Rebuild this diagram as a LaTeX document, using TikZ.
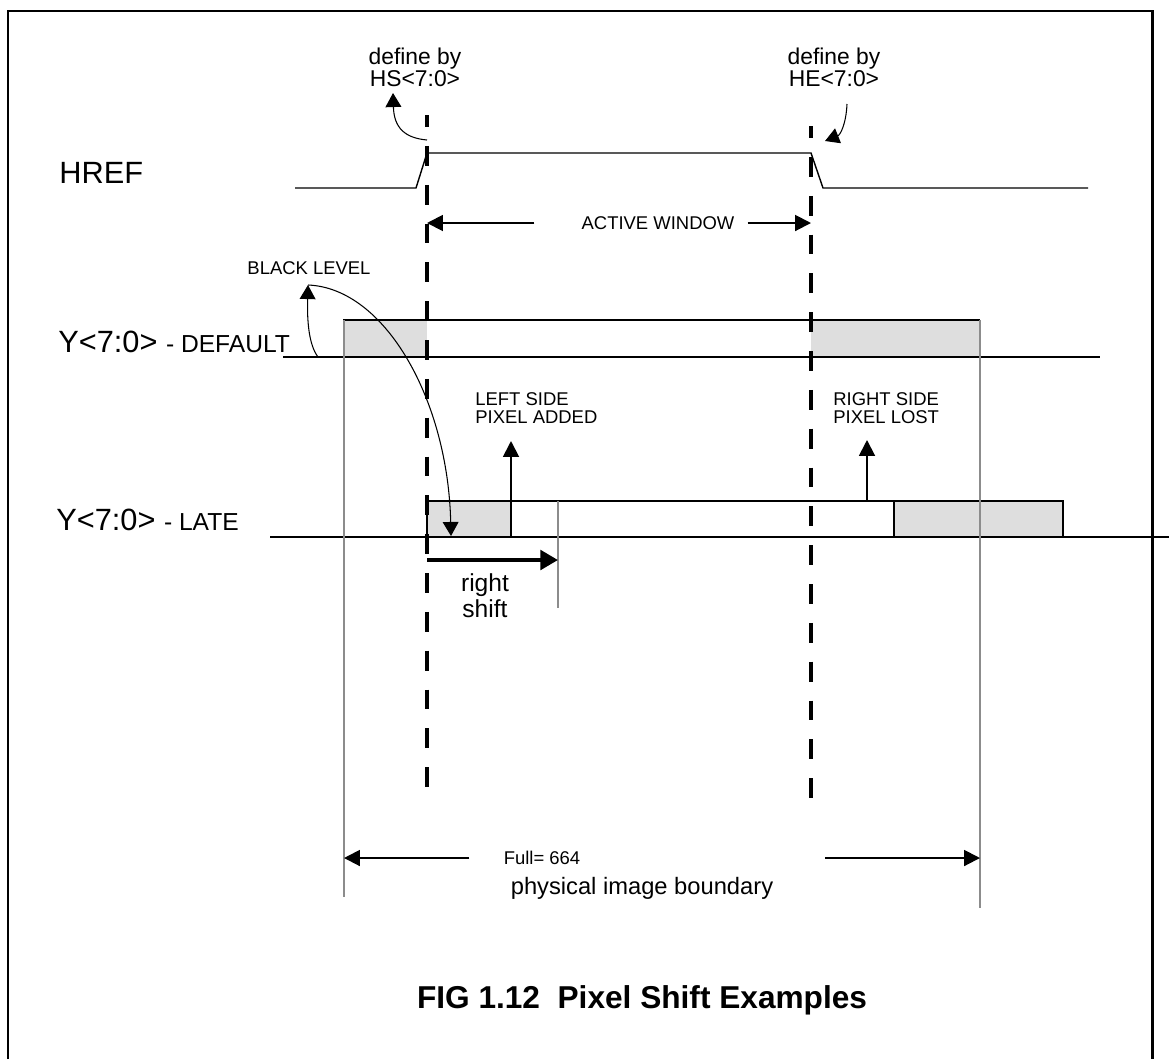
\documentclass[tikz,border=0pt]{standalone}
\usepackage{fontspec}
\setmainfont{Liberation Sans}
\usetikzlibrary{arrows.meta, positioning, calc}
\definecolor{blackfill}{HTML}{DEDEDE}
\definecolor{edgegray}{HTML}{8C8C8C}
\newcommand{\sigfont}{\fontsize{17.5}{20}\selectfont}
\newcommand{\tagfont}{\fontsize{14}{16}\selectfont}

\begin{document}
\begin{tikzpicture}[x=0.02cm, y=-0.02cm,
    >={Triangle[length=9pt, width=9pt]},
    sig/.style={line width=1.1pt},
    hrefline/.style={line width=0.8pt},
    bound/.style={edgegray, line width=0.8pt},
    cut/.style={line width=2.3pt, dash pattern=on 11.3pt off 10.8pt, dash phase=4.5pt},
    curvearrow/.style={line width=0.6pt, -{Triangle[length=8pt, width=9pt]}},
    midtxt/.style={font=\fontsize{13}{12.5}\selectfont, inner sep=0},
    smalltxt/.style={font=\fontsize{10.5}{10.2}\selectfont, inner sep=0}]
    \useasboundingbox (0,0) rectangle (1169,1059);
    \draw[line width=1.7pt] (8,1059) -- (8,11) -- (1152,11) -- (1152,1059);

    % line positions : HS / HE cuts and physical image boundary
    \coordinate (hs) at (427,0);
    \coordinate (he) at (811,0);
    \coordinate (lb) at (344,0);
    \coordinate (rb) at (980,0);

    % black level areas
    \fill[blackfill] (344,320) rectangle (427,357);
    \fill[blackfill] (811,320) rectangle (980,357);
    \fill[blackfill] (427,501) rectangle (511,537);
    \fill[blackfill] (894,501) rectangle (1063,537);

    % signal names
    \node (href) [anchor=base west, inner sep=0, font=\sigfont] at (59,183) {HREF};
    \node (ydef) [anchor=base west, inner sep=0] at (58,352) {\sigfont Y<7:0> \tagfont - DEFAULT};
    \node (ylate) [anchor=base west, inner sep=0] at (56,530) {\sigfont Y<7:0> \tagfont - LATE};

    % HREF : rises at HS, falls at HE
    \draw[hrefline] (295,188) -- (416,188) -- (hs |- 0,153) -- (he |- 0,153) -- (823,188) -- (1088,188);

    % Y<7:0> default
    \draw[sig] (283,357) -- (1100,357);
    \draw[sig] (344,332) -- (344,320) -- (rb |- 0,320);

    % Y<7:0> late
    \draw[sig] (270,537) -- (1169,537);
    \draw[sig] (hs |- 0,537) -- (hs |- 0,501) -- (1063,501) -- (1063,537);
    \draw[sig] (894,501) -- (894,537);

    % physical image boundary
    \draw[bound] (lb |- 0,320) -- (lb |- 0,897);
    \draw[bound] (rb |- 0,320) -- (rb |- 0,908);
    \draw[bound] (558,501) -- (558,608);

    % HS / HE cuts
    \draw[cut] (hs |- 0,115) -- (hs |- 0,790);
    \draw[cut] (he |- 0,126) -- (he |- 0,802);

    % register labels
    \node (hsdef) [midtxt, align=center, anchor=south] at (415,87) {define by\\HS<7:0>};
    \node (hedef) [midtxt, align=center, anchor=south] at (834,87) {define by\\HE<7:0>};
    \draw[curvearrow] (hs |- 0,140) .. controls (405,138) and (394,128) .. ($(hsdef.south)+(-22,6)$);
    \draw[curvearrow] ($(hedef.south)+(13,17)$) .. controls (846,125) and (840,135) .. (825,141);

    % active window
    \node (active) [smalltxt] at (658,223) {ACTIVE WINDOW};
    \draw[sig, ->] ($(active.west)+(-47,0)$) -- (active.west -| hs);
    \draw[sig, ->] ($(active.east)+(13,0)$) -- (active.east -| he);

    % black level
    \node (black) [smalltxt] at (309,268) {BLACK LEVEL};
    \coordinate (blk) at (308,285);
    \draw[curvearrow] (318,357) .. controls (309,345) and (307,322) .. (blk);
    \draw[curvearrow] (blk) .. controls (385,288) and (448,400) .. (451,536);

    % pixel added / lost
    \node (lside) [smalltxt, align=left, anchor=south west] at (475,424) {LEFT SIDE\\PIXEL ADDED};
    \node (rside) [smalltxt, align=left, anchor=south west] at (833,424) {RIGHT SIDE\\PIXEL LOST};
    \draw[sig, ->] (511,537) -- (511,441);
    \draw[sig, ->] (867,501) -- (867,440);

    % right shift
    \draw[line width=2.3pt, -{Triangle[length=10pt, width=11pt]}] (hs |- 0,560) -- (558,560);
    \node (shift) [font=\fontsize{14}{14.7}\selectfont, align=center, anchor=south, inner sep=0] at (485,618) {right\\shift};

    % full width
    \node (full) [smalltxt] at (542,858) {Full= 664};
    \draw[sig, ->] ($(full.west)+(-34,0)$) -- (full.west -| lb);
    \draw[sig, ->] (825,858) -- (rb |- full);
    \node (phys) [font=\fontsize{13.5}{16}\selectfont] at (642,888) {physical image boundary};

    \node (caption) [font=\fontsize{18}{20}\selectfont\bfseries] at (642,1000) {FIG 1.12\ \ Pixel Shift Examples};
\end{tikzpicture}
\end{document}
